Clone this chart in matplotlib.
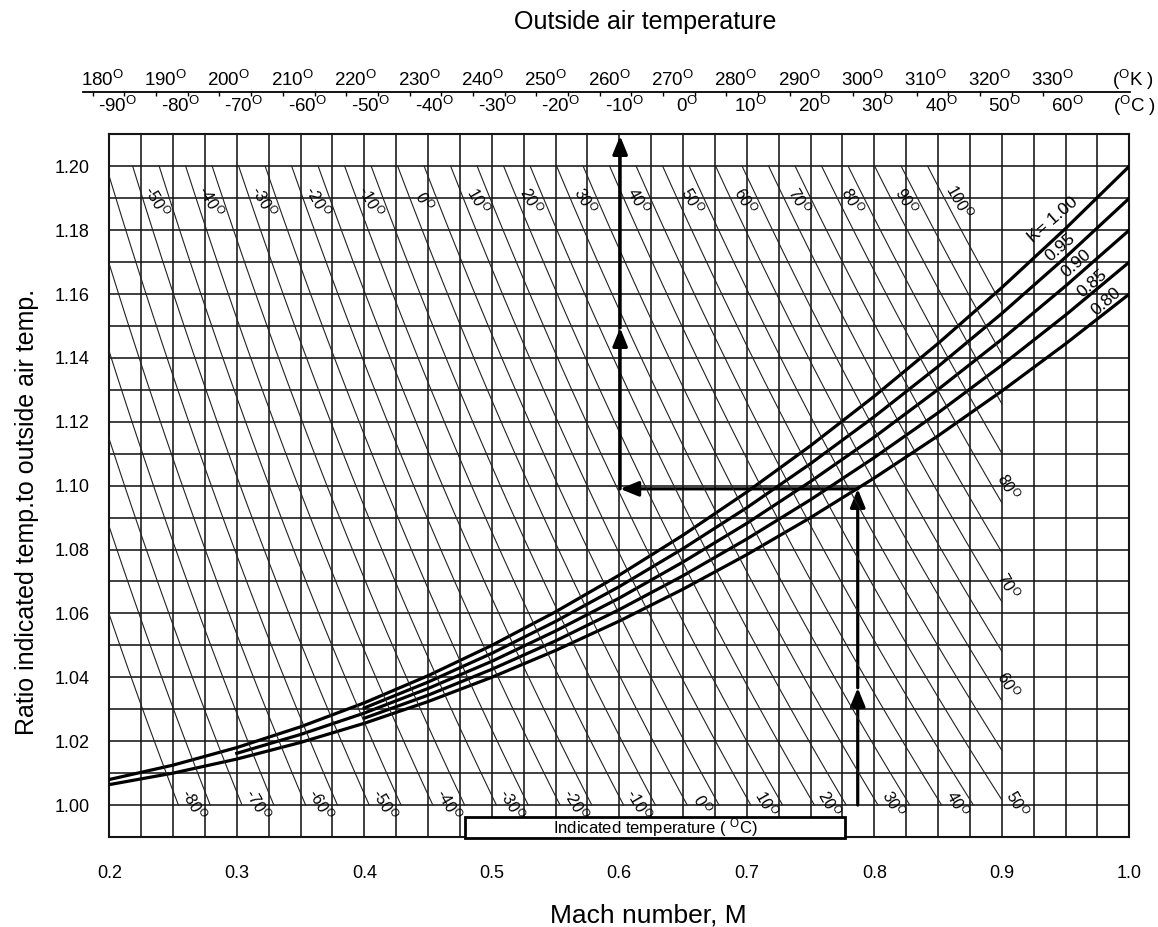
import numpy as np
import matplotlib
matplotlib.use("Agg")
import matplotlib.pyplot as plt
from matplotlib.patches import Rectangle
from matplotlib.transforms import blended_transform_factory

plt.rcParams['font.family'] = ['Liberation Sans', 'DejaVu Sans']
plt.rcParams['mathtext.fontset'] = 'custom'
plt.rcParams['mathtext.rm'] = 'Liberation Sans'
plt.rcParams['mathtext.it'] = 'Liberation Sans:italic'
plt.rcParams['mathtext.bf'] = 'Liberation Sans:bold'

# ---- data ----
mach = [0.20, 0.25, 0.30, 0.35, 0.40, 0.45, 0.50, 0.55, 0.60,
        0.65, 0.70, 0.75, 0.80, 0.85, 0.90, 0.95, 1.00]
ratio_k100 = [1.0080, 1.0125, 1.0180, 1.0245, 1.0320, 1.0405, 1.0500, 1.0605, 1.0720,
              1.0845, 1.0980, 1.1125, 1.1280, 1.1445, 1.1620, 1.1805, 1.2000]
ratio_k095 = [None, None, None, None, 1.0304, 1.0385, 1.0475, 1.0575, 1.0684,
              1.0803, 1.0931, 1.1069, 1.1216, 1.1373, 1.1539, 1.1715, 1.1900]
ratio_k090 = [None, None, 1.0162, 1.0221, 1.0288, 1.0365, 1.0450, 1.0545, 1.0648,
              1.0761, 1.0882, 1.1013, 1.1152, 1.1301, 1.1458, 1.1625, 1.1800]
ratio_k085 = [None, None, None, None, 1.0272, 1.0344, 1.0425, 1.0514, 1.0612,
              1.0718, 1.0833, 1.0956, 1.1088, 1.1228, 1.1377, 1.1534, 1.1700]
ratio_k080 = [1.0064, 1.0100, 1.0144, 1.0196, 1.0256, 1.0324, 1.0400, 1.0484, 1.0576,
              1.0676, 1.0784, 1.0900, 1.1024, 1.1156, 1.1296, 1.1444, 1.1600]
curve_names = ["K= 1.00", "0.95", "0.90", "0.85", "0.80"]

# indicated temperature lines (deg C)
indicated_c = [-80, -75, -70, -65, -60, -55, -50, -45, -40, -35, -30, -25, -20, -15,
               -10, -5, 0, 5, 10, 15, 20, 25, 30, 35, 40, 45, 50, 55, 60, 65, 70,
               75, 80, 85, 90, 95, 100]
top_labels = [-50, -40, -30, -20, -10, 0, 10, 20, 30, 40, 50, 60, 70, 80, 90, 100]
bottom_labels = [-80, -70, -60, -50, -40, -30, -20, -10, 0, 10, 20, 30, 40, 50]
right_labels = [60, 70, 80]

# outside air temperature scale
kelvin_labels = [180, 190, 200, 210, 220, 230, 240, 250, 260, 270, 280, 290, 300, 310, 320, 330]
celsius_labels = [-90, -80, -70, -60, -50, -40, -30, -20, -10, 0, 10, 20, 30, 40, 50, 60]

# worked example
example_mach = 0.787
example_ratio = 1.099
example_oat_k = 262.6

# ---- layout ----
W, H = 1158, 927
K_LIM = (182.28, 342.66)      # OAT (K) spanned by the plot box
TOP_LIM = (178.42, 343.69)    # OAT (K) spanned by the top scale line
INK = '#151515'


def deg(s):
    return s + r"$^{\mathrm{O}}$"


def mach_to_k(m):
    return K_LIM[0] + (m - 0.2) / 0.8 * (K_LIM[1] - K_LIM[0])


fig = plt.figure(figsize=(W / 100, H / 100), dpi=100)
ax = fig.add_axes([109.3 / W, 1 - 837 / H, 1020 / W, 702.7 / H])
ax.set_xlim(0.2, 1.0)
ax.set_ylim(0.99, 1.21)

ax.set_xticks(np.round(np.arange(0.2, 1.001, 0.1), 2))
ax.set_xticks(np.round(np.arange(0.2, 1.001, 0.025), 3), minor=True)
ax.set_yticks(np.round(np.arange(1.0, 1.2001, 0.02), 2))
ax.set_yticks(np.round(np.arange(0.99, 1.2101, 0.01), 2), minor=True)
ax.set_xticklabels([f"{v:.1f}" for v in ax.get_xticks()])
ax.set_yticklabels([f"{v:.2f}" for v in ax.get_yticks()])
ax.tick_params(which='both', length=0)
ax.tick_params(axis='x', pad=20, labelsize=13)
ax.tick_params(axis='y', pad=14, labelsize=13)
ax.grid(which='both', color=INK, lw=1.15)
ax.set_axisbelow(True)
for sp in ax.spines.values():
    sp.set_linewidth(1.5)
    sp.set_color(INK)

# recovery factor curves
for vals in [ratio_k100, ratio_k095, ratio_k090, ratio_k085, ratio_k080]:
    ax.plot(mach, np.array(vals, dtype=float), color='black', lw=2.3, zorder=4)

curve_label_pos = [(0.940, 1.1832), (0.9457, 1.1747), (0.9581, 1.1697),
                   (0.9706, 1.1634), (0.9822, 1.1575)]
for name, (mx, my) in zip(curve_names, curve_label_pos):
    ax.text(mx, my, name, rotation=41, ha='center', va='center', fontsize=12.5, zorder=6)

# indicated temperature lines on an OAT (K) twin axis
axk = ax.twiny()
axk.set_xlim(*K_LIM)
axk.set_xticks([])
for sp in axk.spines.values():
    sp.set_visible(False)

oat_right = mach_to_k(0.9)
for t in indicated_c:
    tk = t + 273.15
    r = np.linspace(max(1.0, tk / oat_right), 1.20, 60)
    axk.plot(tk / r, r, color='#222222', lw=0.8, zorder=2)

for t in top_labels:
    tk = t + 273.15
    axk.text(tk / 1.189 + 2.1, 1.189, deg(str(t)), rotation=-60,
             ha='center', va='center', fontsize=11.5)
for t in bottom_labels:
    tk = t + 273.15
    axk.text(min(tk, oat_right) + 2.4, 1.0003, deg(str(t)), rotation=-60,
             ha='center', va='center', fontsize=11.5)
for t in right_labels:
    tk = t + 273.15
    axk.text(oat_right + 1.0, tk / oat_right + 0.005, deg(str(t)), rotation=-60,
             ha='center', va='center', fontsize=11.5)

# worked example arrows
head = dict(arrowstyle='-|>,head_length=1.1,head_width=0.45', lw=2.3,
            color='black', shrinkA=0, shrinkB=0)
ax.annotate('', xy=(example_mach, 1.0367), xytext=(example_mach, 1.0), arrowprops=head)
ax.annotate('', xy=(example_mach, example_ratio), xytext=(example_mach, 1.0367), arrowprops=head)
ax.annotate('', xy=(example_oat_k, example_ratio), xycoords=axk.transData,
            xytext=(example_mach, example_ratio), textcoords=ax.transData, arrowprops=head)
axk.annotate('', xy=(example_oat_k, 1.1494), xytext=(example_oat_k, example_ratio), arrowprops=head)
axk.annotate('', xy=(example_oat_k, 1.2095), xytext=(example_oat_k, 1.1494), arrowprops=head)

# indicated temperature caption box
ax.add_patch(Rectangle((0.479, 0.9897), 0.298, 0.0067, facecolor='white',
                       edgecolor='black', lw=2.0, zorder=7, clip_on=False))
ax.text(0.628, 0.9931, "Indicated temperature ( " + deg("") + "C)",
        ha='center', va='center', fontsize=12, zorder=8)

# top OAT scale
axt = fig.add_axes([82.7 / W, 1 - 92.3 / H, (1130 - 82.7) / W, 1e-4])
axt.set_xlim(*TOP_LIM)
axt.patch.set_visible(False)
for s in ['left', 'right', 'top']:
    axt.spines[s].set_visible(False)
axt.spines['bottom'].set_linewidth(1.3)
axt.set_yticks([])
axt.set_xticks(np.arange(180, 331, 5))
axt.tick_params(axis='x', direction='out', length=3, width=1.0, labelbottom=False)
trans = blended_transform_factory(axt.transData, fig.transFigure)
for k in kelvin_labels:
    axt.text(k + 1.5, 1 - 85.7 / H, deg(str(k)), transform=trans,
             ha='center', va='baseline', fontsize=13.5)
for c in celsius_labels:
    axt.text(c + 273.15 + 0.7, 1 - 112.5 / H, deg(str(c)), transform=trans,
             ha='center', va='baseline', fontsize=13.5)
fig.text(1111.7 / W, 1 - 85.7 / H, "(" + deg("") + "K )", ha='left', va='baseline', fontsize=13.5)
fig.text(1113 / W, 1 - 112.5 / H, "(" + deg("") + "C )", ha='left', va='baseline', fontsize=13.5)

fig.text(645 / W, 1 - 29 / H, "Outside air temperature", ha='center', va='baseline', fontsize=18)
fig.text(648 / W, 1 - 922 / H, "Mach number, M", ha='center', va='baseline', fontsize=19)
fig.text(27 / W, 1 - 512 / H, "Ratio indicated temp.to outside air temp.", rotation=90,
         ha='center', va='center', fontsize=18)

fig.savefig("out.png", dpi=100)
